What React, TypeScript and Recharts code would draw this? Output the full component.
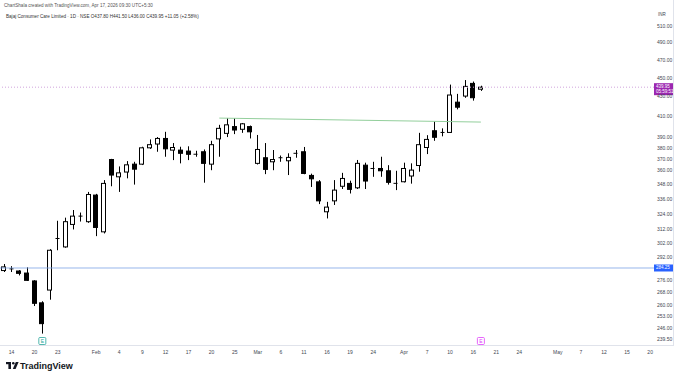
import React from 'react';
import { ComposedChart, Bar, XAxis, YAxis, ReferenceLine } from 'recharts';

// trading days shown on the time axis (the last ones are still in the future)
const dates = [
  '01-13', '01-14', '01-16', '01-19', '01-20', '01-21', '01-22', '01-23', '01-27', '01-28',
  '01-29', '01-30', '02-01', '02-02', '02-03', '02-04', '02-05', '02-06', '02-09', '02-10',
  '02-11', '02-12', '02-13', '02-16', '02-17', '02-18', '02-19', '02-20', '02-23', '02-24',
  '02-25', '02-26', '02-27', '03-02', '03-04', '03-05', '03-06', '03-09', '03-10', '03-11',
  '03-12', '03-13', '03-16', '03-17', '03-18', '03-19', '03-20', '03-23', '03-24', '03-25',
  '03-27', '03-30', '04-01', '04-02', '04-06', '04-07', '04-08', '04-09', '04-10', '04-13',
  '04-15', '04-16', '04-17', '04-20', '04-21', '04-22', '04-23', '04-24', '04-27', '04-28',
  '04-29', '04-30', '05-04', '05-05', '05-06', '05-07', '05-08', '05-11', '05-12', '05-13',
  '05-14', '05-15', '05-18', '05-19', '05-20',
];

const opens = [
  282.5, 283.5, 282.2, 280.8, 275.5, 261.3, 269.5, 305, 299.1, 315.8,
  322, 317.9, 339, 310.2, 369.4, 354.3, 358.4, 365.3, 365.3, 380,
  383.5, 388.7, 377.9, 377.9, 377, 374, 376.4, 365.3, 388.3, 393.5,
  400, 397.4, 400, 366, 371, 367.4, 370.8, 368.3, 374.8, 376.4,
  355.5, 350, 325.6, 334.3, 346.3, 348.7, 345, 364.4, 361.3, 361.5,
  359.5, 348.5, 350.1, 355, 364.1, 380.3, 396, 394.2, 394.4, 424.3,
  430.6, 444, 437.8,
];
const highs = [
  287, 285.5, 282.8, 284.7, 276, 262.3, 297.5, 318.6, 321, 327,
  325, 341.6, 340, 351.5, 370, 363.3, 368, 367.4, 381, 387.8,
  390, 395, 384.4, 381, 381.4, 377.3, 378.5, 386.5, 401.7, 408.2,
  408.2, 403.5, 401, 392, 384.4, 378, 373, 375, 378, 380.8,
  357, 351.5, 333.5, 351.5, 357.7, 351, 369, 366.6, 367.4, 371.9,
  364.4, 359.5, 366.6, 366, 394, 391.8, 405, 398.3, 442.7, 432.9,
  447.6, 446, 441.5,
];
const lows = [
  281.5, 281.5, 279.2, 275.5, 259.3, 242.6, 263.3, 296.7, 298.5, 312,
  318, 317, 307, 309, 346.3, 341.6, 353, 347.7, 364.5, 379,
  376.4, 371.9, 368.9, 366, 368.9, 371.9, 349.3, 360, 371.9, 390,
  392.8, 394, 388.7, 365, 356.6, 360, 367.4, 355.8, 371, 356.5,
  345.7, 331.7, 320.4, 331, 344, 340.3, 344, 344, 354.3, 354.3,
  347.7, 343.1, 349.5, 348.5, 358.7, 374.3, 386.5, 390.7, 394, 417,
  428.8, 425.9, 436,
];
const closes = [
  285, 283.8, 280.6, 275.9, 261, 248.5, 296.7, 305.5, 317.9, 322.2,
  322.4, 339.5, 313.5, 348.7, 355.8, 357.7, 364.7, 360.9, 380, 382.9,
  388.7, 379.1, 380.3, 375, 374.1, 374.3, 366, 382.9, 398.3, 401.7,
  396.7, 402.7, 395, 378.5, 360.7, 369.4, 371.2, 371.3, 375.2, 357.2,
  352.6, 334.3, 329.3, 343.1, 352.9, 343.7, 366, 350.7, 361.7, 359.5,
  349.6, 349, 361.5, 360.1, 382.9, 387.8, 389.8, 394.6, 431.7, 419.2,
  440.8, 428.9, 439.95,
];

// price scale (log) and time scale labels
const priceTicks = [510, 490, 470, 450, 430, 410, 390, 380, 370, 360, 348, 336, 324, 312, 302, 292, 276, 268, 260, 253, 246, 239.5];
const tickDates = ['01-14', '01-20', '01-23', '02-01', '02-04', '02-09', '02-12', '02-17', '02-20', '02-25', '03-02', '03-06', '03-11', '03-16', '03-19', '03-24', '04-01', '04-07', '04-10', '04-16', '04-21', '04-24', '05-04', '05-07', '05-12', '05-15', '05-20'];
const tickLabels = ['14', '20', '23', 'Feb', '4', '9', '12', '17', '20', '25', 'Mar', '6', '11', '16', '19', '24', 'Apr', '7', '10', '16', '21', '24', 'May', '7', '12', '15', '20'];

// drawings on the chart
const lastPrice = 439.95;
const countdown = '05:59:51';
const horizontalLevel = 284.25;
const trendDates = ['02-23', '04-17'];
const trendPrices = [408.3, 404.4];
const eventDates = ['01-21', '04-17'];
const eventColors = ['#26a69a', '#e040fb'];

const FONT = '"Liberation Sans", Arial, sans-serif';

const data = dates.map((d, i) =>
  i < opens.length
    ? { date: d, open: opens[i], high: highs[i], low: lows[i], close: closes[i], range: [lows[i], highs[i]] }
    : { date: d }
);

const labelOf = (d: string) => {
  const i = tickDates.indexOf(d);
  return i >= 0 ? tickLabels[i] : '';
};

// candle drawn inside the low-high range bar, open/close placed on the same log scale
function Candle(props: any) {
  const { x, y, width, height, payload } = props;
  if (!payload || payload.open == null || y == null || height == null) return null;
  const { open, high, low, close } = payload;
  const top = Math.min(y, y + height);
  const bottom = Math.max(y, y + height);
  const span = Math.log(high) - Math.log(low);
  const yOf = (v: number) => (span > 0 ? top + (bottom - top) * (Math.log(high) - Math.log(v)) / span : top);
  const cx = Math.round(x + width / 2) + 0.5;
  const bTop = yOf(Math.max(open, close));
  const bBot = yOf(Math.min(open, close));
  const up = close >= open;
  const left = Math.round(x) + 0.5;
  const w = Math.round(width) - 1;
  return (
    <g>
      <line x1={cx} x2={cx} y1={top} y2={bottom} stroke="#000" strokeWidth={1} />
      {bBot - bTop < 1.2 ? (
        <line x1={left} x2={left + w} y1={(bTop + bBot) / 2} y2={(bTop + bBot) / 2} stroke="#000" strokeWidth={1} />
      ) : (
        <rect x={left} y={bTop} width={w} height={bBot - bTop} fill={up ? '#fff' : '#000'} stroke="#000" strokeWidth={1} />
      )}
    </g>
  );
}

function XTick(props: any) {
  const { x, payload } = props;
  return (
    <text x={x} y={354} textAnchor="middle" fontSize={5} fill="#434651" fontFamily={FONT}>
      {labelOf(payload.value)}
    </text>
  );
}

function YTick(props: any) {
  const { y, payload } = props;
  return (
    <text x={657} y={y + 1.8} textAnchor="start" fontSize={5} fill="#434651" fontFamily={FONT}>
      {Number(payload.value).toFixed(2)}
    </text>
  );
}

// price tag box on the price scale
function PriceTag(props: any) {
  const { viewBox, fill, lines } = props;
  if (!viewBox) return null;
  const x = viewBox.x + viewBox.width;
  const h = lines.length > 1 ? 12 : 7;
  const y0 = viewBox.y - (lines.length > 1 ? 4 : 3.5);
  return (
    <g>
      <rect x={x} y={y0} width={19} height={h} fill={fill} />
      {lines.map((t: string, k: number) => (
        <text key={k} x={x + 2} y={y0 + 5 + k * 5} fontSize={4.5} fill="#fff" fontFamily={FONT}>
          {t}
        </text>
      ))}
    </g>
  );
}

function EventMark(props: any) {
  const { viewBox, color } = props;
  if (!viewBox) return null;
  const cx = viewBox.x;
  const by = viewBox.y + viewBox.height;
  return (
    <g>
      <rect x={cx - 3.5} y={by - 7.5} width={7} height={7} fill="#fff" stroke={color} strokeWidth={0.8} rx={1} />
      <text x={cx} y={by - 2.2} textAnchor="middle" fontSize={5} fill={color} fontFamily={FONT}>E</text>
    </g>
  );
}

export default function App() {
  return (
    <div style={{ position: 'absolute', left: 0, top: 0, width: 680, height: 378, background: '#fff', overflow: 'hidden' }}>
      <ComposedChart width={680} height={378} data={data} margin={{ top: 8, right: 0, bottom: 0, left: 0 }} barCategoryGap={0}>
        <XAxis
          dataKey="date"
          height={33}
          ticks={tickDates}
          interval={0}
          tickLine={false}
          tickSize={0}
          axisLine={false}
          tick={<XTick />}
        />
        <YAxis
          orientation="right"
          scale="log"
          domain={[236, 532.7]}
          allowDataOverflow
          ticks={priceTicks}
          interval={0}
          width={26}
          tickLine={false}
          tickSize={0}
          axisLine={false}
          tick={<YTick />}
        />
        <ReferenceLine
          segment={[{ x: trendDates[0], y: trendPrices[0] }, { x: trendDates[1], y: trendPrices[1] }]}
          stroke="#93cf9c"
          strokeWidth={1}
        />
        <Bar dataKey="range" barSize={5} shape={<Candle />} isAnimationActive={false} />
        <ReferenceLine
          y={horizontalLevel}
          stroke="#7ea3e6"
          strokeWidth={0.8}
          label={<PriceTag fill="#2962ff" lines={[horizontalLevel.toFixed(2)]} />}
        />
        <ReferenceLine
          y={lastPrice}
          stroke="#d0a3dc"
          strokeDasharray="1 2"
          strokeWidth={1}
          label={<PriceTag fill="#9c27b0" lines={[lastPrice.toFixed(2), countdown]} />}
        />
        {eventDates.map((d, k) => (
          <ReferenceLine key={d} x={d} stroke="none" label={<EventMark color={eventColors[k]} />} />
        ))}
      </ComposedChart>

      <svg width={680} height={378} style={{ position: 'absolute', left: 0, top: 0, pointerEvents: 'none' }}>
        <line x1={0} x2={673} y1={345.5} y2={345.5} stroke="#e0e3eb" strokeWidth={1} />
        <line x1={673.5} x2={673.5} y1={0} y2={346} stroke="#e0e3eb" strokeWidth={1} />
        <text x={658} y={16} fontSize={4.5} fill="#434651" fontFamily={FONT}>INR</text>
        <text x={4} y={6.5} fontSize={4.6} fill="#555" fontFamily={FONT}>
          ChartShala created with TradingView.com, Apr 17, 2026 09:30 UTC+5:30
        </text>
        <text x={6} y={17.5} fontSize={4.6} fill="#333" fontFamily={FONT}>
          Bajaj Consumer Care Limited · 1D · NSE  O437.80 H441.50 L436.00 C439.95 +11.05 (+2.58%)
        </text>
        <g transform="translate(6,362)">
          <rect x={0} y={0} width={5} height={2.2} fill="#131722" />
          <rect x={2.4} y={0} width={2.6} height={7} fill="#131722" />
          <circle cx={7.3} cy={1.3} r={1.3} fill="#131722" />
          <path d="M9.8 0 L12.6 0 L9.6 7 L6.8 7 Z" fill="#131722" />
        </g>
        <text x={20} y={369} fontSize={9} fontWeight="bold" fill="#131722" fontFamily={FONT}>
          TradingView
        </text>
      </svg>
    </div>
  );
}
